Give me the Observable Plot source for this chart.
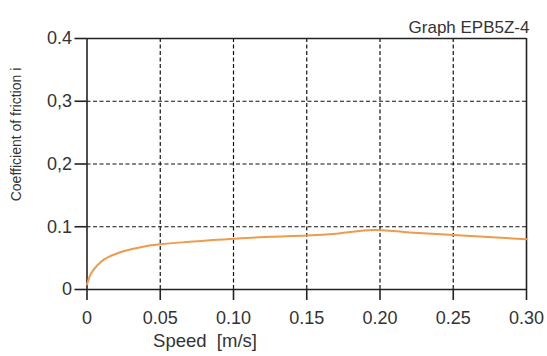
<!DOCTYPE html>
<html>
<head>
<meta charset="utf-8">
<script src="https://cdn.jsdelivr.net/npm/d3@7"></script>
<script src="https://cdn.jsdelivr.net/npm/@observablehq/plot@0.6"></script>
<style>
  html, body { margin: 0; padding: 0; background: #fff; }
  svg { font-family: "Liberation Sans", Arial, sans-serif; }
</style>
</head>
<body>
<div id="chart"></div>
<script>
// Data
const speed    = [0, 0.002, 0.005, 0.01, 0.02, 0.03, 0.04, 0.05, 0.07, 0.10, 0.125, 0.15, 0.17, 0.195, 0.22, 0.25, 0.30];
const friction = [0.008, 0.022, 0.033, 0.045, 0.057, 0.064, 0.069, 0.072, 0.076, 0.081, 0.084, 0.086, 0.089, 0.095, 0.091, 0.087, 0.080];
const xTicks = [0, 0.05, 0.10, 0.15, 0.20, 0.25, 0.30];
const xTickLabels = ["0", "0.05", "0.10", "0.15", "0.20", "0.25", "0.30"];
const yTicks = [0, 0.1, 0.2, 0.3, 0.4];
const yTickLabels = ["0", "0.1", "0,2", "0,3", "0.4"];
const xGrid = [0.05, 0.10, 0.15, 0.20, 0.25];
const yGrid = [0.1, 0.2, 0.3];
const titleText = "Graph EPB5Z-4";
const xLabel = "Speed\u00a0\u00a0[m/s]";
const yLabel = "Coefficient of friction i";

const data = speed.map((s, i) => ({speed: s, friction: friction[i]}));

const chart = Plot.plot({
  width: 547,
  height: 356,
  marginLeft: 86.5,
  marginRight: 21,
  marginTop: 38,
  marginBottom: 67,
  style: {fontFamily: "'Liberation Sans', Arial, sans-serif", color: "#333", background: "#fff"},
  x: {domain: [0, 0.30]},
  y: {domain: [0, 0.4]},
  marks: [
    Plot.ruleX(xGrid, {stroke: "#111", strokeWidth: 1.2, strokeDasharray: "4,2.5"}),
    Plot.ruleY(yGrid, {stroke: "#111", strokeWidth: 1.2, strokeDasharray: "4,2.5"}),
    Plot.ruleY([0.4], {stroke: "#222", strokeWidth: 1.6}),
    Plot.ruleX([0.30], {stroke: "#222", strokeWidth: 1.6}),
    Plot.ruleY([0], {stroke: "#222", strokeWidth: 1.6}),
    Plot.ruleX([0], {stroke: "#222", strokeWidth: 1.6}),
    Plot.axisX({
      ticks: xTicks,
      tickFormat: (d, i) => xTickLabels[i],
      tickSize: 11,
      tickPadding: 11,
      fontSize: 18,
      stroke: "#222",
      strokeWidth: 1.6,
      fill: "#333",
      label: null
    }),
    Plot.axisY({
      ticks: yTicks,
      tickFormat: (d, i) => yTickLabels[i],
      tickSize: 12,
      tickPadding: 3,
      fontSize: 18,
      stroke: "#222",
      strokeWidth: 1.6,
      fill: "#333",
      label: null
    }),
    Plot.line(data, {x: "speed", y: "friction", stroke: "#ef9a4c", strokeWidth: 2, curve: "monotone-x"}),
    Plot.text([titleText], {frameAnchor: "top-right", text: d => d, textAnchor: "end", dy: -18, dx: 3, fontSize: 17, fill: "#333"}),
    Plot.text([xLabel], {frameAnchor: "bottom-left", text: d => d, textAnchor: "middle", dx: 118, dy: 57, fontSize: 18.5, fill: "#333"}),
    Plot.text([yLabel], {frameAnchor: "left", text: d => d, textAnchor: "middle", rotate: -90, dx: -70.5, dy: -29.5, fontSize: 14, fill: "#333"})
  ]
});
document.getElementById("chart").appendChild(chart);
</script>
</body>
</html>
